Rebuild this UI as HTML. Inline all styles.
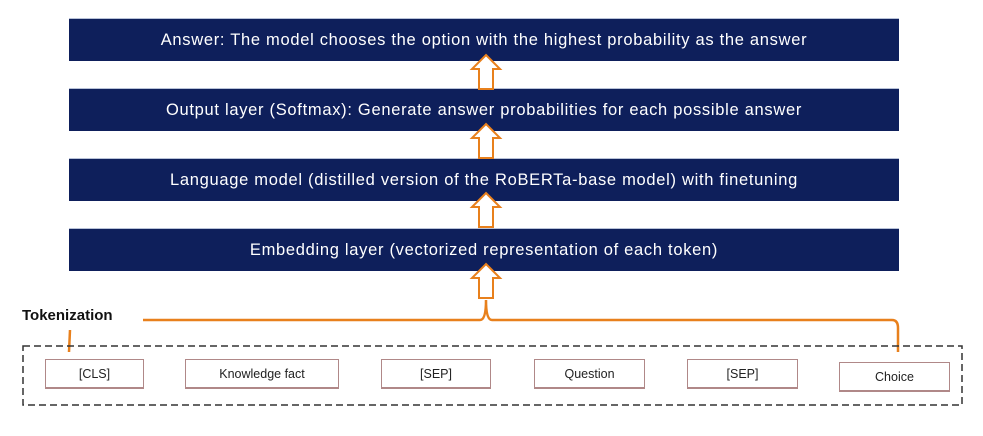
<!DOCTYPE html>
<html><head><style>
body{margin:0;width:983px;height:436px;background:#fff;position:relative;overflow:hidden;font-family:"Liberation Sans",sans-serif}
.bar{position:absolute;left:69px;width:830px;height:42px;background:#0e1f5b;color:#fff;font-size:16.5px;letter-spacing:0.7px;display:flex;align-items:center;justify-content:center;border-top:1px solid #b8c2d8}
.tok{position:absolute;height:30px;border:1.5px solid #b08888;border-bottom-width:2px;color:#222;font-size:12.5px;display:flex;align-items:center;justify-content:center;box-sizing:border-box;background:#fff}
</style></head><body>
<div class="bar" style="top:18px">Answer: The model chooses the option with the highest probability as the answer</div>
<div class="bar" style="top:88px">Output layer (Softmax): Generate answer probabilities for each possible answer</div>
<div class="bar" style="top:158px">Language model (distilled version of the RoBERTa-base model) with finetuning</div>
<div class="bar" style="top:228px">Embedding layer (vectorized representation of each token)</div>
<svg width="983" height="436" style="position:absolute;left:0;top:0">
<g fill="#fff" stroke="#e8801c" stroke-width="2">
<polygon points="486,55 500,69 493,69 493,89 479,89 479,69 472,69"/>
<polygon points="486,124 500,138 493,138 493,158 479,158 479,138 472,138"/>
<polygon points="486,193 500,207 493,207 493,227 479,227 479,207 472,207"/>
<polygon points="486,264 500,278 493,278 493,298 479,298 479,278 472,278"/>
</g>
<path d="M143,320 H480 Q486,320 486,300 Q486,320 492,320 H892 Q898,320 898,328 V352" fill="none" stroke="#e8801c" stroke-width="2.5"/>
<line x1="70" y1="330" x2="69" y2="352" stroke="#e8801c" stroke-width="2.5"/>
<rect x="23" y="346" width="939" height="59" fill="none" stroke="#333" stroke-width="1.5" stroke-dasharray="7,4"/>
</svg>
<div style="position:absolute;left:22px;top:307px;font-size:15px;font-weight:bold;color:#111">Tokenization</div>
<div class="tok" style="left:45px;top:359px;width:99px">[CLS]</div>
<div class="tok" style="left:185px;top:359px;width:154px">Knowledge fact</div>
<div class="tok" style="left:381px;top:359px;width:110px">[SEP]</div>
<div class="tok" style="left:534px;top:359px;width:111px">Question</div>
<div class="tok" style="left:687px;top:359px;width:111px">[SEP]</div>
<div class="tok" style="left:839px;top:362px;width:111px">Choice</div>
</body></html>
